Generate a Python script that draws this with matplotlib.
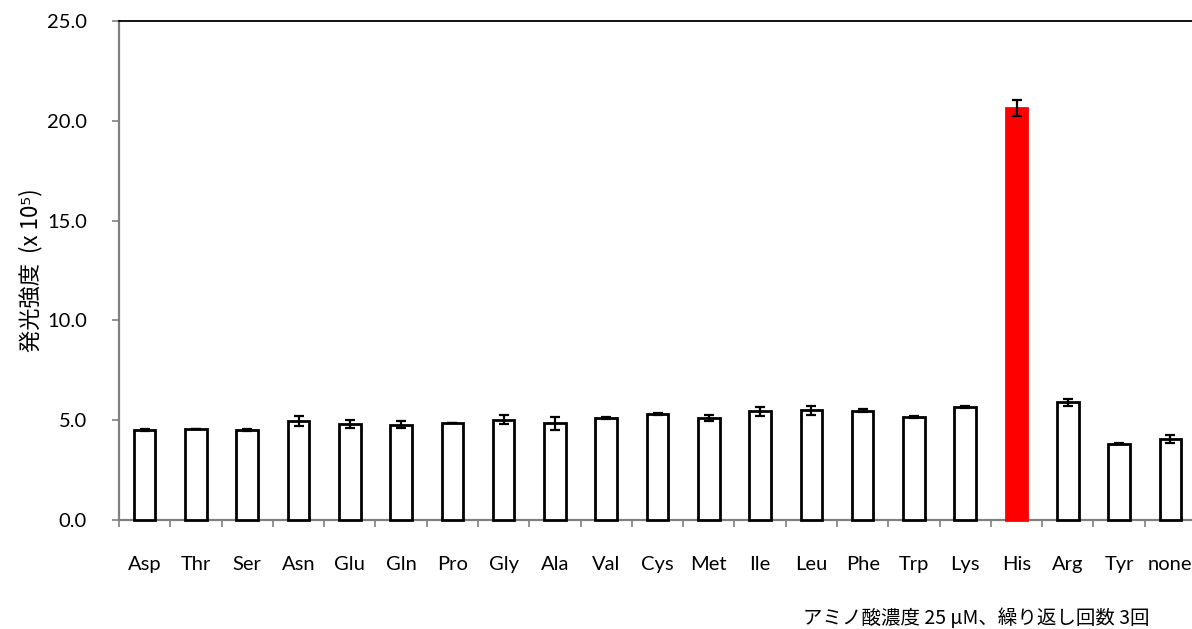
import matplotlib
matplotlib.use("Agg")
import matplotlib.pyplot as plt
import numpy as np

categories = ["Asp", "Thr", "Ser", "Asn", "Glu", "Gln", "Pro", "Gly", "Ala", "Val", "Cys",
              "Met", "Ile", "Leu", "Phe", "Trp", "Lys", "His", "Arg", "Tyr", "none"]
values = [4.50, 4.57, 4.50, 4.95, 4.82, 4.77, 4.88, 5.03, 4.84, 5.12, 5.32,
          5.10, 5.45, 5.50, 5.48, 5.17, 5.64, 20.64, 5.90, 3.82, 4.08]
errors = [0.05, 0.0, 0.05, 0.24, 0.20, 0.17, 0.0, 0.23, 0.31, 0.06, 0.04,
          0.15, 0.22, 0.23, 0.08, 0.04, 0.05, 0.42, 0.17, 0.03, 0.20]
highlight = "His"
yticks = [0, 5, 10, 15, 20, 25]
ylabel = "発光強度  (x 10⁵)"
footnote = "アミノ酸濃度 25 μM、繰り返し回数 3回"

W, H = 1192, 629
fig = plt.figure(figsize=(W / 100, H / 100), dpi=100)
ax = fig.add_axes([119 / W, 1 - 520 / H, 1077 / W, 499 / H])

x = np.arange(len(categories))
face = ["#FF0000" if c == highlight else "white" for c in categories]
edge = ["#FF0000" if c == highlight else "black" for c in categories]
ax.bar(x, values, width=0.42, color=face, edgecolor=edge, linewidth=2.0, zorder=3, clip_on=False)
ax.errorbar(x, values, yerr=errors, fmt="none", ecolor="black", elinewidth=1.6,
            capsize=3.5, capthick=1.6, zorder=4)

ax.set_xlim(-0.5, len(categories) - 0.5)
ax.set_ylim(0, 25)
ax.set_yticks(yticks)
ax.set_yticklabels([f"{v:.1f}" for v in yticks])

gray = "#808080"
for s in ["left", "bottom"]:
    ax.spines[s].set_color(gray)
    ax.spines[s].set_linewidth(1.6)
ax.spines["top"].set_color("black")
ax.spines["top"].set_linewidth(1.3)
ax.spines["right"].set_visible(False)

ax.set_xticks(np.arange(len(categories) + 1) - 0.5)
ax.set_xticklabels([])
ax.set_xticks(x, minor=True)
ax.set_xticklabels(categories, minor=True, fontsize=14.5, fontfamily="Lato")
ax.tick_params(axis="x", which="major", direction="out", length=5, width=1.2, color=gray)
ax.tick_params(axis="x", which="minor", length=0, pad=26)
ax.tick_params(axis="y", direction="out", length=5, width=1.2, color=gray, pad=18)
for t in ax.get_yticklabels():
    t.set_fontsize(14.5)
    t.set_fontfamily("Lato")

ax.set_ylabel(ylabel, fontsize=16, family=["Noto Sans CJK JP", "DejaVu Sans"], labelpad=3)
fig.text(803 / W, 1 - 619 / H, footnote, fontsize=14, family=["Noto Sans CJK JP", "DejaVu Sans"],
         va="center", ha="left")

fig.savefig("out.png", dpi=100)
